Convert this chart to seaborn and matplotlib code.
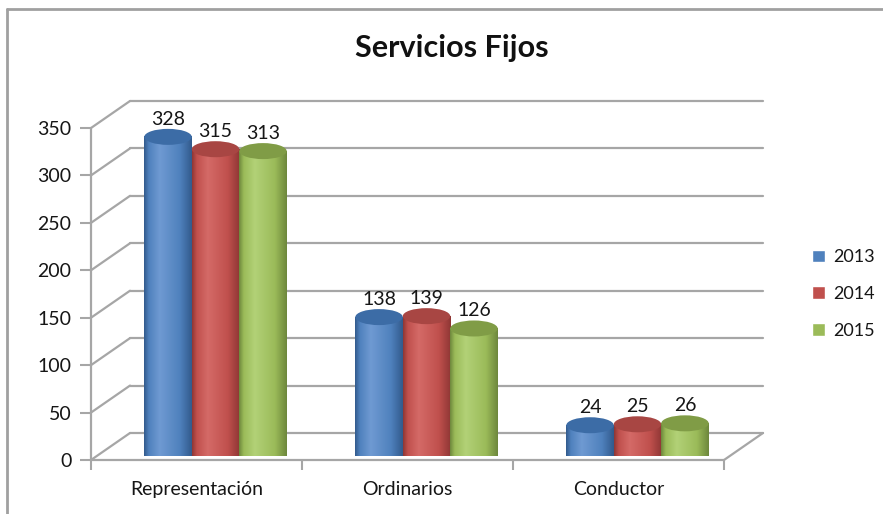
import matplotlib
matplotlib.use("Agg")
import matplotlib.pyplot as plt
import seaborn as sns
import pandas as pd
import numpy as np
from matplotlib.transforms import ScaledTranslation
from matplotlib.patches import PathPatch, Ellipse
from matplotlib.path import Path
from matplotlib.lines import Line2D
from matplotlib.colors import LinearSegmentedColormap

categories = ["Representación", "Ordinarios", "Conductor"]
years = ["2013", "2014", "2015"]
values_2013 = [328, 138, 24]
values_2014 = [315, 139, 25]
values_2015 = [313, 126, 26]
y_ticks = [0, 50, 100, 150, 200, 250, 300, 350]

# excel 2007 palette: (dark edge, body, highlight, top cap)
shades = {
    "2013": ("#325a8c", "#4f81bd", "#6f9ad2", "#3c6ca6"),
    "2014": ("#8e3634", "#c0504d", "#d46a67", "#a84643"),
    "2015": ("#6d873c", "#9bbb59", "#b2d177", "#809c46"),
}

df = pd.DataFrame({
    "categoria": categories * 3,
    "anio": [y for y in years for _ in categories],
    "valor": values_2013 + values_2014 + values_2015,
})

sns.set_style("white")
plt.rcParams["font.family"] = ["Lato", "DejaVu Sans"]

fig = plt.figure(figsize=(8.83, 5.14), dpi=100)
# front plane of the 3d box: x 91..724 px, y 0 at 460 px, 350 at 128 px
ax = fig.add_axes([91 / 883, (514 - 460) / 514, 633 / 883, 332 / 514])

sns.barplot(data=df, x="categoria", y="valor", hue="anio", order=categories,
            hue_order=years, palette=[shades[y][1] for y in years],
            width=0.675, gap=0, saturation=1, ax=ax)

ax.set_xlim(-0.5, 2.5)
ax.set_ylim(0, 350)
for s in ax.spines.values():
    s.set_visible(False)

grid_col = "#a6a6a6"
txt_col = "#161616"


def shift(dx, dy):
    return ax.transData + ScaledTranslation(dx / 100, dy / 100, fig.dpi_scale_trans)


back = shift(39, 27)
bars_tr = shift(19, 12)
label_tr = shift(19, 24)

# walls: back grid lines and left wall diagonals
ppx = ax.transData.transform((1, 0))[0] - ax.transData.transform((0, 0))[0]
ppy = ax.transData.transform((0, 1))[1] - ax.transData.transform((0, 0))[1]
ddx, ddy = 39 / ppx, 27 / ppy
for t in y_ticks:
    ax.plot([-0.5, 2.5], [t, t], color=grid_col, lw=1.6, transform=back,
            clip_on=False, zorder=1)
    ax.plot([-0.5, -0.5 + ddx], [t, t + ddy], color=grid_col, lw=1.6,
            clip_on=False, zorder=1)
ax.plot([2.5, 2.5 + ddx], [0, ddy], color=grid_col, lw=1.6, clip_on=False, zorder=1)
ax.plot([-0.5, 2.5], [0, 0], color=grid_col, lw=1.6, clip_on=False, zorder=2)
ax.plot([-0.5, -0.5], [0, 350], color=grid_col, lw=1.6, clip_on=False, zorder=2)

# cylinders drawn over each seaborn bar
ry = 8 / ppy
th = np.linspace(np.pi, 2 * np.pi, 60)
grad = np.linspace(0, 1, 256)[None, :]
for year, cont in zip(years, ax.containers):
    dark, mid, light, top = shades[year]
    cmap = LinearSegmentedColormap.from_list(
        year, [(0, dark), (0.1, mid), (0.33, light), (0.75, mid), (1, dark)])
    for bar in cont:
        bar.set_visible(False)
        x0, w, h = bar.get_x(), bar.get_width(), bar.get_height()
        xc = x0 + w / 2
        verts = [(x0, h)] + list(zip(xc + w / 2 * np.cos(th), ry * np.sin(th))) + [(x0 + w, h), (x0, h)]
        body = PathPatch(Path(verts), transform=bars_tr, facecolor="none",
                         edgecolor="none", clip_on=False)
        ax.add_patch(body)
        im = ax.imshow(grad, cmap=cmap, extent=(x0, x0 + w, -ry, h), aspect="auto",
                       origin="lower", transform=bars_tr, zorder=3, clip_on=False)
        im.set_clip_path(body)
        ax.add_patch(Ellipse((xc, h), w, 2 * ry, transform=bars_tr, facecolor=top,
                             edgecolor="none", zorder=4, clip_on=False))
        ax.text(xc, h, f"{int(h)}", transform=label_tr, ha="center", va="baseline",
                fontsize=14, color=txt_col, zorder=5, clip_on=False)

ax.set_xlim(-0.5, 2.5)
ax.set_ylim(0, 350)
ax.set_aspect("auto")

ax.set_yticks(y_ticks)
ax.set_xticks([0, 1, 2])
ax.set_xticklabels(categories)
ax.set_xticks([-0.5, 0.5, 1.5, 2.5], minor=True)
ax.tick_params(axis="y", left=True, length=8, width=1.5, color=grid_col,
               pad=6, labelsize=14, labelcolor=txt_col)
ax.tick_params(axis="x", which="major", bottom=False, length=0, pad=15,
               labelsize=14, labelcolor=txt_col)
ax.tick_params(axis="x", which="minor", bottom=True, length=7, width=1.5,
               color=grid_col)
ax.set_xlabel("")
ax.set_ylabel("")

leg = ax.legend(loc="center left", bbox_to_anchor=(812 / 883, 1 - 294 / 514),
                bbox_transform=fig.transFigure, frameon=False, fontsize=13,
                handlelength=0.7, handleheight=0.7, handletextpad=0.5,
                labelspacing=1.15, borderpad=0, borderaxespad=0)
for t in leg.get_texts():
    t.set_color(txt_col)

fig.text(452 / 883, 1 - 57 / 514, "Servicios Fijos", ha="center", va="baseline",
         fontsize=22, fontweight="bold", color="#111111")

# chart frame (left and top edges visible in the crop)
fig.add_artist(Line2D([7 / 883, 7 / 883], [0, 1 - 9 / 514], transform=fig.transFigure,
                      color="#a0a0a0", lw=2))
fig.add_artist(Line2D([7 / 883, 1], [1 - 9 / 514, 1 - 9 / 514], transform=fig.transFigure,
                      color="#a0a0a0", lw=2))

fig.savefig("out.png", dpi=100)
